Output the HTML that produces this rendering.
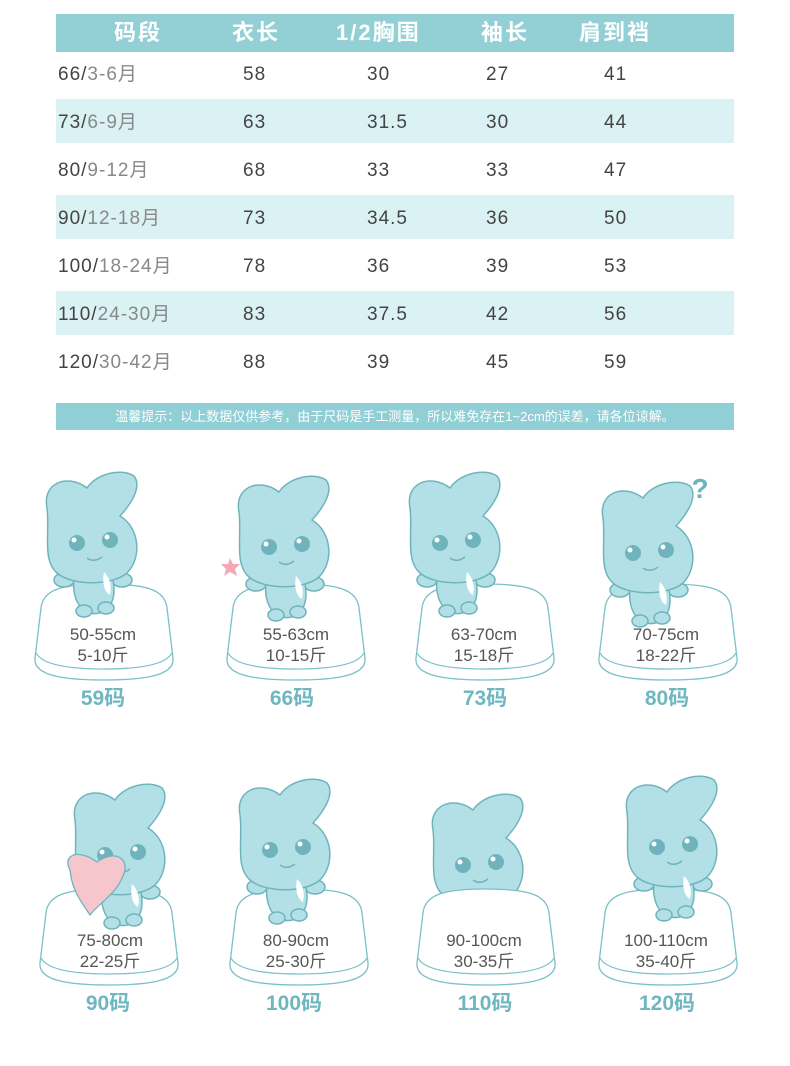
<!DOCTYPE html>
<html><head><meta charset="utf-8"><style>
body{margin:0;width:790px;height:1066px;background:#fff;position:relative;font-family:"Liberation Sans","Noto Sans CJK SC",sans-serif;overflow:hidden}
.hd{position:absolute;left:56px;top:14px;width:678px;height:38px;background:#93d0d6}
.hd span{position:absolute;top:0;line-height:38px;color:#fff;font-size:22px;font-weight:bold;letter-spacing:2px}
.row{position:absolute;left:56px;width:678px;height:44px}
.row.s{background:#daf2f4}
.row span{position:absolute;top:2px;line-height:44px;font-size:19px;color:#444;letter-spacing:1px;font-family:"Liberation Sans",sans-serif}
.row span:first-child{top:0}
.row span i{font-style:normal;color:#888}
.row span b{font-weight:normal;font-family:"Noto Sans CJK SC",sans-serif;color:#888}
.note{position:absolute;left:56px;top:403px;width:678px;height:27px;background:#8fcfd5;color:#fff;font-size:13px;line-height:27px;text-align:center}
</style></head><body>
<div class="hd"><span style="left:58px">码段</span><span style="left:176px">衣长</span><span style="left:280px">1/2胸围</span><span style="left:425px">袖长</span><span style="left:523px">肩到裆</span></div>

<div class="row" style="top:51px"><span style="left:2px">66/<i>3-6</i><b>月</b></span><span style="left:187px">58</span><span style="left:311px">30</span><span style="left:430px">27</span><span style="left:548px">41</span></div>
<div class="row s" style="top:99px"><span style="left:2px">73/<i>6-9</i><b>月</b></span><span style="left:187px">63</span><span style="left:311px">31.5</span><span style="left:430px">30</span><span style="left:548px">44</span></div>
<div class="row" style="top:147px"><span style="left:2px">80/<i>9-12</i><b>月</b></span><span style="left:187px">68</span><span style="left:311px">33</span><span style="left:430px">33</span><span style="left:548px">47</span></div>
<div class="row s" style="top:195px"><span style="left:2px">90/<i>12-18</i><b>月</b></span><span style="left:187px">73</span><span style="left:311px">34.5</span><span style="left:430px">36</span><span style="left:548px">50</span></div>
<div class="row" style="top:243px"><span style="left:2px">100/<i>18-24</i><b>月</b></span><span style="left:187px">78</span><span style="left:311px">36</span><span style="left:430px">39</span><span style="left:548px">53</span></div>
<div class="row s" style="top:291px"><span style="left:2px">110/<i>24-30</i><b>月</b></span><span style="left:187px">83</span><span style="left:311px">37.5</span><span style="left:430px">42</span><span style="left:548px">56</span></div>
<div class="row" style="top:339px"><span style="left:2px">120/<i>30-42</i><b>月</b></span><span style="left:187px">88</span><span style="left:311px">39</span><span style="left:430px">45</span><span style="left:548px">59</span></div>

<div class="note">温馨提示：以上数据仅供参考，由于尺码是手工测量，所以难免存在1~2cm的误差，请各位谅解。</div>

<svg width="790" height="1066" style="position:absolute;left:0;top:0" xmlns="http://www.w3.org/2000/svg">
<defs>
<g id="cush" fill="#fff" stroke="#7cc0c8" stroke-width="1.3">
<path d="M8,25 C10,6 30,1 71,1 C112,1 132,6 134,25 L140,75 C142,93 110,97 71,97 C32,97 0,93 2,75 Z"/>
<path d="M3,70 C10,83 40,86 71,86 C102,86 132,83 139,70" fill="none"/>
</g>
<g id="bun" fill="#b3e0e6" stroke="#6fb4bd" stroke-width="1.5">
<ellipse cx="22" cy="112" rx="10" ry="7"/>
<ellipse cx="80" cy="112" rx="10" ry="7"/>
<path d="M35,100 C28,118 32,140 48,145 C62,148 72,138 72,122 C72,110 68,102 62,98 Z"/>
<ellipse cx="42" cy="143" rx="8" ry="6"/>
<ellipse cx="64" cy="140" rx="8" ry="6"/>
<path d="M5,40 C0,15 25,5 45,20 C55,5 80,0 92,8 C100,18 90,35 78,48 C98,60 100,90 85,105 C70,118 30,118 15,105 C0,92 8,65 5,40Z"/>
<path d="M62,104 C60,114 62,124 68,127 C70,118 68,110 62,104Z" fill="#fff" stroke="none"/>
<circle cx="35" cy="75" r="8" fill="#6fb4bd" stroke="none"/><circle cx="68" cy="72" r="8" fill="#6fb4bd" stroke="none"/>
<circle cx="32" cy="72" r="2.5" fill="#fff" stroke="none"/><circle cx="65" cy="69" r="2.5" fill="#fff" stroke="none"/>
<path d="M45,90 Q52,95 60,89" fill="none"/>
</g>
</defs>
<g font-family="Liberation Sans, Noto Sans CJK SC, sans-serif" font-size="17" fill="#555" text-anchor="middle">
<use href="#cush" x="33" y="583"/><use href="#bun" x="42" y="468"/>
<use href="#cush" x="225" y="583"/><use href="#bun" x="234" y="472"/>
<use href="#cush" x="414" y="583"/><use href="#bun" x="405" y="468"/>
<use href="#cush" x="597" y="583"/><use href="#bun" x="598" y="478"/>
<use href="#cush" x="38" y="888"/><use href="#bun" x="70" y="780"/>
<use href="#cush" x="228" y="888"/><use href="#bun" x="235" y="775"/>
<use href="#bun" x="428" y="790"/><use href="#cush" x="415" y="888"/>
<use href="#cush" x="597" y="888"/><use href="#bun" x="622" y="772"/>
<path d="M70,870 C62,855 78,848 97,862 C116,848 132,860 122,878 C115,895 97,905 90,915 C80,900 72,890 70,870Z" fill="#f6c6cd" stroke="#6fb4bd" stroke-width="1.3"/>
<path d="M230,558 l3,6 l7,0 l-5,5 l2,7 l-7,-4 l-6,4 l2,-7 l-5,-5 l7,0z" fill="#f4a9b6"/>
<text x="700" y="498" font-size="28" font-weight="bold" fill="#6fb4bd">?</text>
<text x="103" y="640">50-55cm</text><text x="103" y="661">5-10斤</text>
<text x="296" y="640">55-63cm</text><text x="296" y="661">10-15斤</text>
<text x="484" y="640">63-70cm</text><text x="484" y="661">15-18斤</text>
<text x="666" y="640">70-75cm</text><text x="666" y="661">18-22斤</text>
<text x="110" y="946">75-80cm</text><text x="110" y="967">22-25斤</text>
<text x="296" y="946">80-90cm</text><text x="296" y="967">25-30斤</text>
<text x="484" y="946">90-100cm</text><text x="484" y="967">30-35斤</text>
<text x="666" y="946">100-110cm</text><text x="666" y="967">35-40斤</text>
<g font-size="21" font-weight="bold" fill="#6fb7c0">
<text x="103" y="705">59码</text><text x="292" y="705">66码</text><text x="485" y="705">73码</text><text x="667" y="705">80码</text>
<text x="108" y="1010">90码</text><text x="294" y="1010">100码</text><text x="485" y="1010">110码</text><text x="667" y="1010">120码</text>
</g>
</g>
</svg>
</body></html>
